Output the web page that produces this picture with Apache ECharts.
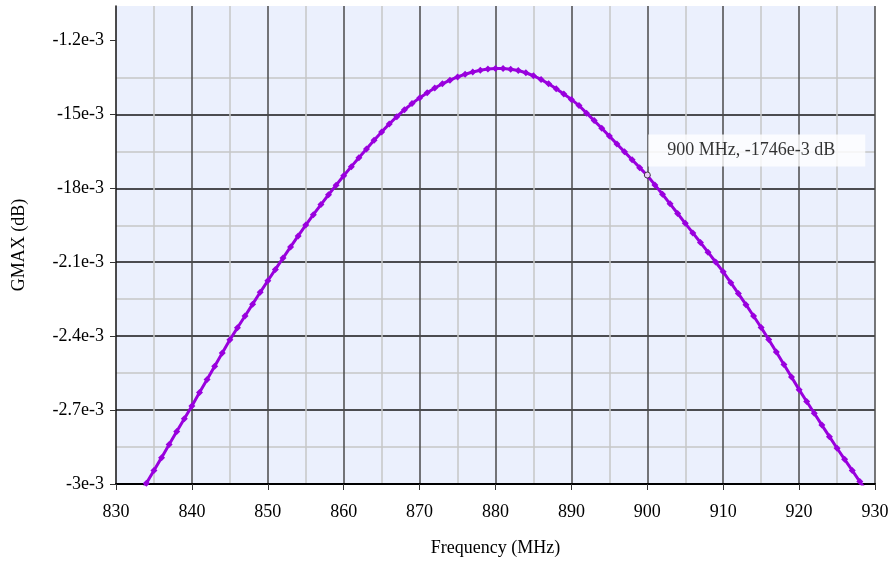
<!DOCTYPE html>
<html>
<head>
<meta charset="utf-8">
<script src="https://cdn.jsdelivr.net/npm/echarts@6/dist/echarts.min.js"></script>
<style>
  html, body { margin: 0; padding: 0; background: #fff; }
  #chart { width: 890px; height: 562px; }
</style>
</head>
<body>
<div id="chart"></div>
<script>
// frequency in MHz, gain in units of 1e-3 dB
const freqs = [];
for (let f = 833; f <= 929; f++) freqs.push(f);

const gmax = [
  -3.050, -2.997, -2.945, -2.893, -2.840, -2.787, -2.735, -2.683, -2.629, -2.576,
  -2.522, -2.468, -2.415, -2.366, -2.318, -2.270, -2.222, -2.175, -2.129, -2.083,
  -2.038, -1.993, -1.949, -1.907, -1.866, -1.826, -1.787, -1.749, -1.712, -1.676,
  -1.640, -1.605, -1.571, -1.539, -1.509, -1.481, -1.456, -1.433, -1.412, -1.393,
  -1.376, -1.361, -1.348, -1.337, -1.328, -1.321, -1.316, -1.314, -1.314, -1.317,
  -1.322, -1.331, -1.343, -1.358, -1.376, -1.396, -1.417, -1.439, -1.464, -1.495,
  -1.525, -1.556, -1.588, -1.620, -1.652, -1.684, -1.716, -1.748, -1.786, -1.824,
  -1.863, -1.902, -1.942, -1.981, -2.020, -2.059, -2.099, -2.139, -2.183, -2.227,
  -2.272, -2.318, -2.365, -2.414, -2.464, -2.515, -2.566, -2.617, -2.665, -2.713,
  -2.761, -2.808, -2.855, -2.900, -2.945, -2.990, -3.035
];

// y tick values and the labels printed next to them
const yTickValues = [-3.0, -2.7, -2.4, -2.1, -1.8, -1.5, -1.2];
const yTickLabels = ['-3e-3', '-2.7e-3', '-2.4e-3', '-2.1e-3', '-18e-3', '-15e-3', '-1.2e-3'];

// the highlighted point and its readout
const markFreq = 900;
const markValue = -1.746;
const markText = '900 MHz, -1746e-3 dB';

const font = '"Liberation Serif", "Times New Roman", serif';

const chart = echarts.init(document.getElementById('chart'));

chart.setOption({
  animation: false,
  textStyle: { fontFamily: font },
  grid: {
    left: 116,
    right: 15,
    top: 6,
    bottom: 78,
    outerBoundsMode: 'none',
    containLabel: false,
    show: true,
    backgroundColor: '#ebf0fd',
    borderWidth: 0
  },
  xAxis: {
    type: 'value',
    min: 830,
    max: 930,
    interval: 10,
    name: 'Frequency (MHz)',
    nameLocation: 'middle',
    nameGap: 55,
    nameTextStyle: { fontFamily: font, fontSize: 18, color: '#000' },
    axisLine: { show: true, lineStyle: { color: '#000', width: 2 } },
    axisTick: { show: true, inside: false, length: 6, lineStyle: { color: '#333', width: 1 } },
    axisLabel: { fontFamily: font, fontSize: 18, color: '#000', margin: 19 },
    splitLine: { show: true, showMinLine: false, lineStyle: { color: '#4a4a4a', width: 1.5 } },
    minorTick: { show: false, splitNumber: 2 },
    minorSplitLine: { show: true, lineStyle: { color: '#c6c6c6', width: 1.5 } }
  },
  yAxis: {
    type: 'value',
    min: -3,
    max: -1.06,
    interval: 0.3,
    name: 'GMAX (dB)',
    nameLocation: 'middle',
    nameGap: 88,
    nameTextStyle: { fontFamily: font, fontSize: 18, color: '#000' },
    axisLine: { show: true, lineStyle: { color: '#111', width: 1.5 } },
    axisTick: {
      show: true, inside: false, length: 6,
      customValues: yTickValues,
      lineStyle: { color: '#333', width: 1 }
    },
    axisLabel: {
      fontFamily: font,
      fontSize: 18,
      color: '#000',
      margin: 12,
      formatter: function (v) {
        const i = yTickValues.findIndex(t => Math.abs(t - v) < 1e-6);
        return i >= 0 ? yTickLabels[i] : '';
      }
    },
    splitLine: { show: true, showMinLine: false, showMaxLine: false, lineStyle: { color: '#161616', width: 1.5 } },
    minorTick: { show: false, splitNumber: 2 },
    minorSplitLine: { show: true, lineStyle: { color: '#c6c6c6', width: 1.5 } }
  },
  series: [
    {
      type: 'line',
      data: freqs.map((f, i) => [f, gmax[i]]),
      clip: true,
      showSymbol: true,
      symbol: 'diamond',
      symbolSize: 7,
      lineStyle: { color: '#9900dd', width: 3 },
      itemStyle: { color: '#9900dd' }
    },
    {
      type: 'scatter',
      data: [[markFreq, markValue]],
      symbol: 'circle',
      symbolSize: 6,
      itemStyle: { color: '#fff', borderColor: '#222', borderWidth: 1 },
      label: {
        show: true,
        formatter: markText,
        position: 'top',
        align: 'left',
        distance: 5,
        offset: [1, 0],
        fontFamily: font,
        fontSize: 18,
        color: '#000',
        backgroundColor: '#fff',
        padding: [7, 30, 7, 19]
      },
      z: 5
    }
  ]
});
</script>
</body>
</html>
